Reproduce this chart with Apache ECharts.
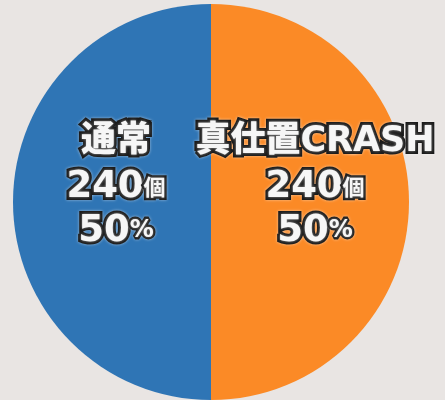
<!DOCTYPE html>
<html>
<head>
<meta charset="utf-8">
<script src="https://cdn.jsdelivr.net/npm/echarts@6/dist/echarts.min.js"></script>
<style>
html,body{margin:0;padding:0;background:#e9e5e3;}
#chart{width:445px;height:400px;}
</style>
</head>
<body>
<div id="chart"></div>
<script>
const categories = ['真仕置CRASH', '通常'];
const values = [240, 240];
const unit = '個';
const colors = ['#fb8a26', '#2f75b5'];

const chart = echarts.init(document.getElementById('chart'));
const baseText = {
  color: '#f6f6f6',
  fontFamily: 'DejaVu Sans, Noto Sans CJK JP, sans-serif',
  fontWeight: 'bold',
  textBorderColor: '#1b1b1b',
  textBorderWidth: 6,
  textShadowColor: 'rgba(255,255,255,0.55)',
  textShadowBlur: 3
};
chart.setOption({
  backgroundColor: '#e9e5e3',
  animation: false,
  series: [{
    type: 'pie',
    center: [211, 202],
    radius: [0, 198],
    startAngle: 90,
    clockwise: true,
    data: categories.map((c, i) => ({ name: c, value: values[i], itemStyle: { color: colors[i] } })),
    label: {
      show: true,
      position: 'inside',
      align: 'center',
      formatter: p => '{n|' + p.name + '}\n{v|' + p.value + '}{u|' + unit + '}\n{v|' + Math.round(p.percent) + '}{pu|%}',
      rich: {
        n: Object.assign({}, baseText, { fontSize: 35, lineHeight: 46, fontWeight: 900 }),
        v: Object.assign({}, baseText, { fontSize: 37, lineHeight: 44 }),
        u: Object.assign({}, baseText, { fontSize: 22, lineHeight: 44, fontFamily: 'Noto Sans CJK JP, sans-serif', textBorderWidth: 5 }),
        pu: Object.assign({}, baseText, { fontSize: 24, lineHeight: 44, textBorderWidth: 5 })
      }
    },
    labelLayout: function (params) {
      return { dy: -16, dx: params.dataIndex === 1 ? 7 : 2 };
    },
    labelLine: { show: false },
    emphasis: { disabled: true }
  }]
});
</script>
</body>
</html>
